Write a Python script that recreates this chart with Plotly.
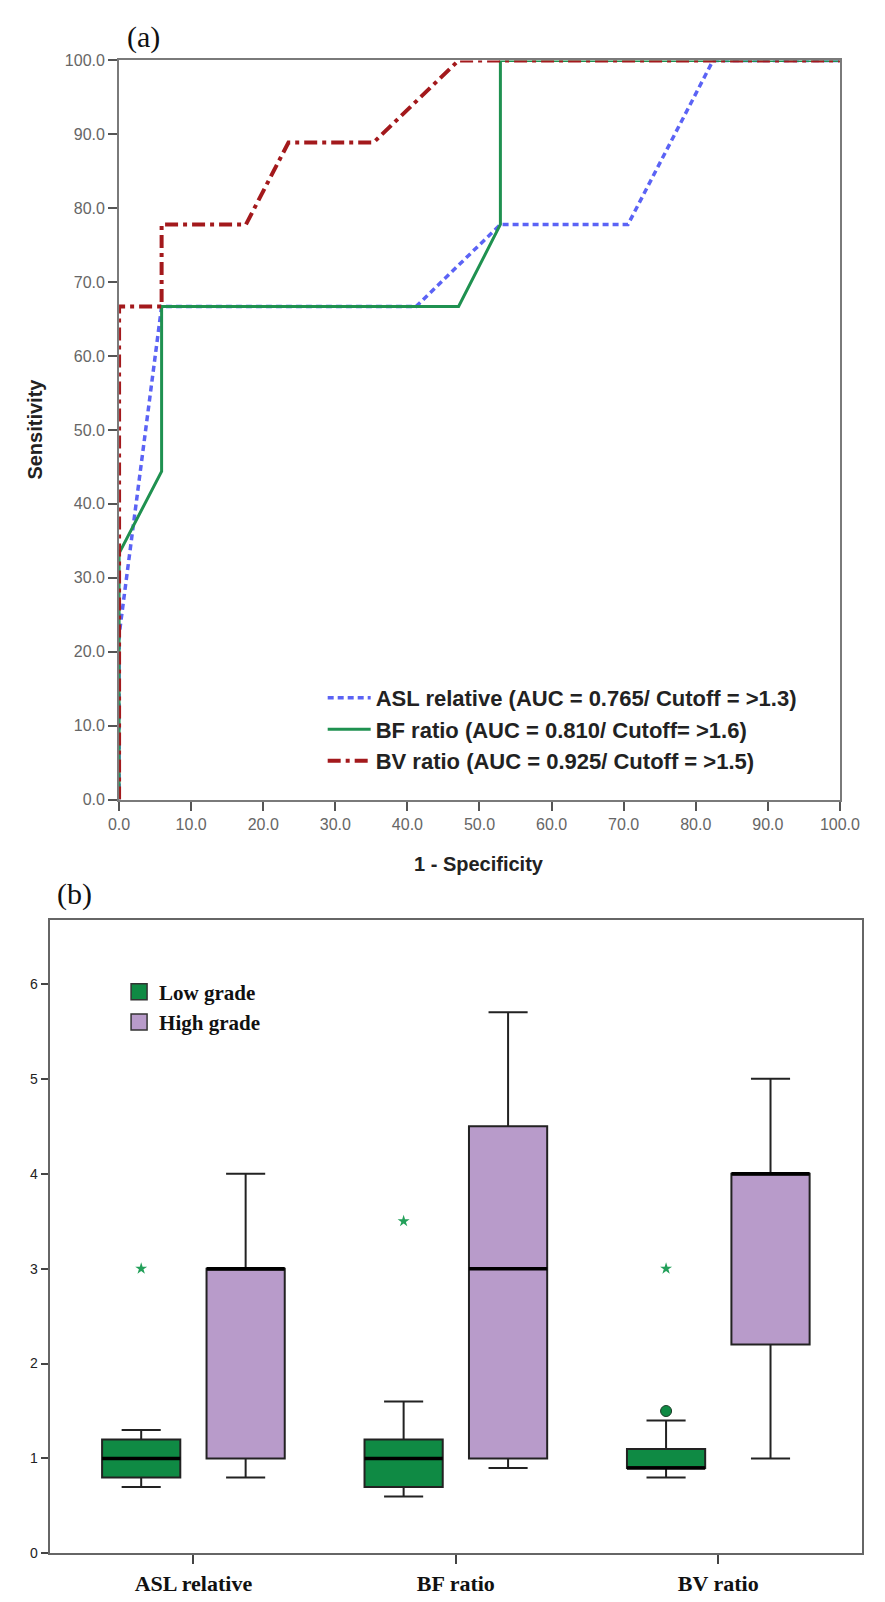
import plotly.graph_objects as go

# ---------------- Panel (a): ROC data ----------------
asl_fpr = [0.0, 0.0, 5.9, 41.2, 52.9, 70.6, 82.4, 100.0]
asl_tpr = [0.0, 22.2, 66.7, 66.7, 77.8, 77.8, 100.0, 100.0]

bf_fpr = [0.0, 0.0, 5.9, 5.9, 47.1, 52.9, 52.9, 100.0]
bf_tpr = [0.0, 33.3, 44.4, 66.7, 66.7, 77.8, 100.0, 100.0]

bv_fpr = [0.0, 0.0, 5.9, 5.9, 17.6, 23.5, 35.3, 47.1, 100.0]
bv_tpr = [0.0, 66.7, 66.7, 77.8, 77.8, 88.9, 88.9, 100.0, 100.0]

roc_names = ["ASL relative (AUC = 0.765/ Cutoff = >1.3)",
             "BF ratio (AUC = 0.810/ Cutoff= >1.6)",
             "BV ratio (AUC = 0.925/ Cutoff = >1.5)"]
roc_ticks = [0, 10, 20, 30, 40, 50, 60, 70, 80, 90, 100]
roc_ticktext = ["0.0", "10.0", "20.0", "30.0", "40.0", "50.0", "60.0", "70.0", "80.0", "90.0", "100.0"]

# ---------------- Panel (b): box plot data ----------------
categories = ["ASL relative", "BF ratio", "BV ratio"]
low_q1 = [0.8, 0.7, 0.9]
low_median = [1.0, 1.0, 0.9]
low_q3 = [1.2, 1.2, 1.1]
low_lower = [0.7, 0.6, 0.8]
low_upper = [1.3, 1.6, 1.4]

high_q1 = [1.0, 1.0, 2.2]
high_median = [3.0, 3.0, 4.0]
high_q3 = [3.0, 4.5, 4.0]
high_lower = [0.8, 0.9, 1.0]
high_upper = [4.0, 5.7, 5.0]

low_extreme = [3.0, 3.5, 3.0]        # stars (extreme values, low grade)
bv_low_outlier = [1.5]               # circle (BV ratio, low grade)

W, H = 885, 1602
BLUE = "#5b63f5"
GREEN_L = "#1f9150"
RED = "#a3191c"
GREEN_F = "#0f8a44"
PURPLE = "#b89bca"

fig = go.Figure()

fig.add_trace(go.Scatter(x=asl_fpr, y=asl_tpr, mode="lines", name=roc_names[0],
                         line=dict(color=BLUE, width=3.5, dash="6px,4px"),
                         xaxis="x", yaxis="y", legend="legend"))
fig.add_trace(go.Scatter(x=bf_fpr, y=bf_tpr, mode="lines", name=roc_names[1],
                         line=dict(color=GREEN_L, width=3),
                         xaxis="x", yaxis="y", legend="legend"))
fig.add_trace(go.Scatter(x=bv_fpr, y=bv_tpr, mode="lines", name=roc_names[2],
                         line=dict(color=RED, width=4, dash="13px,5px,4px,5px"),
                         xaxis="x", yaxis="y", legend="legend"))

# box plots
off = 0.199
bw = 0.298
low_x = [i - off for i in range(len(categories))]
high_x = [i + off for i in range(len(categories))]

fig.add_trace(go.Box(x=low_x, q1=low_q1, median=low_median, q3=low_q3,
                     lowerfence=low_lower, upperfence=low_upper, width=bw,
                     fillcolor=GREEN_F, line=dict(color="#222222", width=2),
                     whiskerwidth=0.5, showlegend=False, xaxis="x2", yaxis="y2",
                     hoverinfo="skip"))
fig.add_trace(go.Box(x=high_x, q1=high_q1, median=high_median, q3=high_q3,
                     lowerfence=high_lower, upperfence=high_upper, width=bw,
                     fillcolor=PURPLE, line=dict(color="#222222", width=2),
                     whiskerwidth=0.5, showlegend=False, xaxis="x2", yaxis="y2",
                     hoverinfo="skip"))

# thick median lines
def median_segments(xs, meds):
    sx, sy = [], []
    for xc, m in zip(xs, meds):
        sx += [xc - bw / 2, xc + bw / 2, None]
        sy += [m, m, None]
    return sx, sy

for xs, meds in [(low_x, low_median), (high_x, high_median)]:
    sx, sy = median_segments(xs, meds)
    fig.add_trace(go.Scatter(x=sx, y=sy, mode="lines", line=dict(color="#000000", width=3.5),
                             showlegend=False, xaxis="x2", yaxis="y2", hoverinfo="skip"))

fig.add_trace(go.Scatter(x=low_x, y=low_extreme, mode="markers",
                         marker=dict(symbol="star", size=9, color="#23a05a"),
                         showlegend=False, xaxis="x2", yaxis="y2"))
fig.add_trace(go.Scatter(x=[low_x[2]], y=bv_low_outlier, mode="markers",
                         marker=dict(symbol="circle", size=11, color=GREEN_F,
                                     line=dict(color="#1a3a25", width=1)),
                         showlegend=False, xaxis="x2", yaxis="y2"))

# legend entries for (b)
fig.add_trace(go.Scatter(x=[None], y=[None], mode="markers", name="Low grade",
                         marker=dict(symbol="square", size=16, color=GREEN_F,
                                     line=dict(color="#333333", width=1.5)),
                         xaxis="x2", yaxis="y2", legend="legend2"))
fig.add_trace(go.Scatter(x=[None], y=[None], mode="markers", name="High grade",
                         marker=dict(symbol="square", size=16, color=PURPLE,
                                     line=dict(color="#333333", width=1.5)),
                         xaxis="x2", yaxis="y2", legend="legend2"))

sans = "Liberation Sans, Arial, sans-serif"
serif = "Liberation Serif, Times New Roman, serif"

fig.update_layout(
    width=W, height=H,
    margin=dict(l=0, r=0, t=0, b=0),
    paper_bgcolor="white", plot_bgcolor="white",
    xaxis=dict(domain=[112 / W, 859 / W], range=[0, 100], tickvals=roc_ticks,
               ticktext=roc_ticktext, showgrid=False, zeroline=False,
               showline=True, mirror=True, linecolor="#7a7a7a", linewidth=2,
               ticks="outside", ticklen=9, tickwidth=2, tickcolor="#555555",
               tickfont=dict(family=sans, size=16, color="#666666"), anchor="y"),
    yaxis=dict(domain=[1 - 800 / H, 1 - 53 / H], range=[0, 100], tickvals=roc_ticks,
               ticktext=roc_ticktext, showgrid=False, zeroline=False,
               showline=True, mirror=True, linecolor="#7a7a7a", linewidth=2,
               ticks="outside", ticklen=9, tickwidth=2, tickcolor="#555555",
               tickfont=dict(family=sans, size=16, color="#666666"), anchor="x"),
    xaxis2=dict(domain=[40 / W, 882 / W], range=[-0.548, 2.548], tickvals=[0, 1, 2],
                ticktext=categories, showgrid=False, zeroline=False,
                showline=True, mirror=True, linecolor="#666666", linewidth=2,
                ticks="outside", ticklen=9, tickwidth=2, tickcolor="#444444",
                tickfont=dict(family=serif, size=22, color="#111111", weight="bold"),
                anchor="y2"),
    yaxis2=dict(domain=[1 - 1562 / H, 1 - 922 / H], range=[0, 6.67],
                tickvals=[0, 1, 2, 3, 4, 5, 6], showgrid=False, zeroline=False,
                showline=True, mirror=True, linecolor="#666666", linewidth=2,
                ticks="outside", ticklen=7, tickwidth=2, tickcolor="#444444",
                tickfont=dict(family=sans, size=14, color="#222222"), anchor="x2"),
    legend=dict(x=323 / W, y=1 - 676 / H, xanchor="left", yanchor="top",
                bgcolor="rgba(0,0,0,0)", tracegroupgap=0, itemwidth=43,
                font=dict(family=sans, size=22, color="#222222", weight="bold")),
    legend2=dict(x=112 / W, y=1 - 974 / H, xanchor="left", yanchor="top",
                 bgcolor="rgba(0,0,0,0)",
                 font=dict(family=serif, size=21, color="#111111", weight="bold")),
    annotations=[
        dict(text="(a)", x=137 / W, y=1 - 29 / H, xref="paper", yref="paper",
             xanchor="center", yanchor="middle",
             showarrow=False, font=dict(family=serif, size=30, color="#111111")),
        dict(text="(b)", x=66 / W, y=1 - 895 / H, xref="paper", yref="paper",
             xanchor="center", yanchor="middle",
             showarrow=False, font=dict(family=serif, size=30, color="#111111")),
        dict(text="<b>Sensitivity</b>", x=25 / W, y=1 - 426 / H, xref="paper", yref="paper",
             xanchor="center", yanchor="middle",
             showarrow=False, textangle=-90, font=dict(family=sans, size=20, color="#222222")),
        dict(text="<b>1 - Specificity</b>", x=485 / W, y=1 - 865 / H, xref="paper", yref="paper",
             xanchor="center", yanchor="middle",
             showarrow=False, font=dict(family=sans, size=20, color="#222222")),
    ],
)

fig.write_html("out.html", config={"displayModeBar": False},
               post_script="document.body.style.margin='0';")
